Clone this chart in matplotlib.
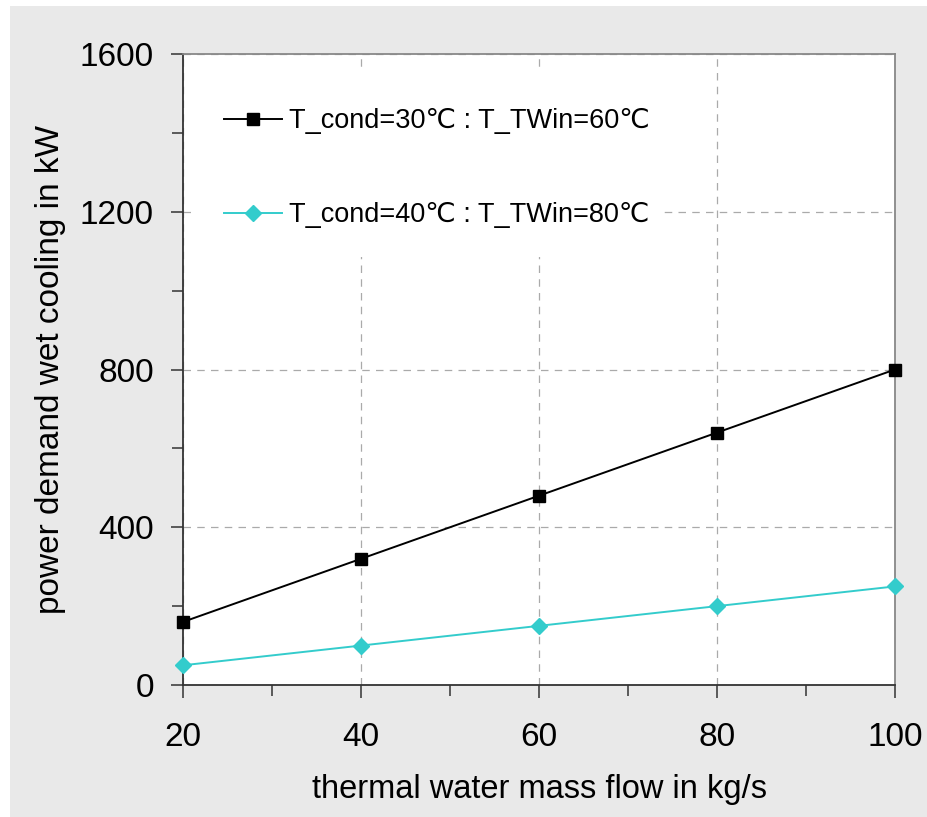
import matplotlib
matplotlib.use('Agg')
import matplotlib.pyplot as plt
from matplotlib.patches import Rectangle
from matplotlib.ticker import MultipleLocator

plt.rcParams['font.family'] = ['Liberation Sans', 'DejaVu Sans']

# data
mass_flow = [20, 40, 60, 80, 100]
power_30_60 = [160, 320, 480, 640, 800]
power_40_80 = [50, 100, 150, 200, 250]
label_30_60 = 'T_cond=30\u2103 : T_TWin=60\u2103'
label_40_80 = 'T_cond=40\u2103 : T_TWin=80\u2103'

fig = plt.figure(figsize=(9.27, 8.17), dpi=100)
fig.patch.set_facecolor('white')
# grey panel behind the plot
fig.patches.append(Rectangle((10 / 927, 0), 917 / 927, 1 - 6 / 817,
                             transform=fig.transFigure, facecolor='#e9e9e9',
                             edgecolor='none', zorder=-10))

ax = fig.add_axes([183 / 927, 1 - 685 / 817, 712 / 927, 631 / 817])
ax.set_facecolor('white')

ax.plot(mass_flow, power_30_60, color='black', lw=1.4, marker='s', ms=8.8,
        label=label_30_60, clip_on=False, zorder=4)
ax.plot(mass_flow, power_40_80, color='#33cccc', lw=1.4, marker='D', ms=8.5,
        label=label_40_80, clip_on=False, zorder=4)

ax.set_xlim(20, 100)
ax.set_ylim(0, 1600)
ax.xaxis.set_major_locator(MultipleLocator(20))
ax.xaxis.set_minor_locator(MultipleLocator(10))
ax.yaxis.set_major_locator(MultipleLocator(400))
ax.yaxis.set_minor_locator(MultipleLocator(200))

ax.grid(True, which='major', color='#aaaaaa', ls=(0, (6, 5)), lw=0.9)
ax.set_axisbelow(True)

# white box of the legend area hides the grid behind it
ax.add_patch(Rectangle((0.012, 0.679), 0.664, 0.296, transform=ax.transAxes,
                       facecolor='white', edgecolor='none', zorder=1.5))

for side in ('left', 'bottom'):
    ax.spines[side].set_color('#333333')
    ax.spines[side].set_linewidth(1.3)
for side in ('top', 'right'):
    ax.spines[side].set_color('#888888')
    ax.spines[side].set_linewidth(1.3)

ax.tick_params(which='both', direction='out', color='#333333', width=1.1,
               labelsize=24, top=False, right=False)
ax.tick_params(which='major', length=9)
ax.tick_params(which='minor', length=8)
ax.tick_params(axis='y', pad=12)
ax.tick_params(axis='x', pad=18)

ax.set_xlabel('thermal water mass flow in kg/s', fontsize=23.5, labelpad=15)
ax.set_ylabel('power demand wet cooling in kW', fontsize=24, labelpad=10)

leg = ax.legend(loc='upper left', bbox_to_anchor=(0.0576, 0.914), fontsize=19.5,
                frameon=False, handlelength=2.15, handletextpad=0.25,
                labelspacing=2.5, borderpad=0, borderaxespad=0)
leg.set_zorder(5)

fig.savefig('out.png', dpi=100, facecolor=fig.get_facecolor())
